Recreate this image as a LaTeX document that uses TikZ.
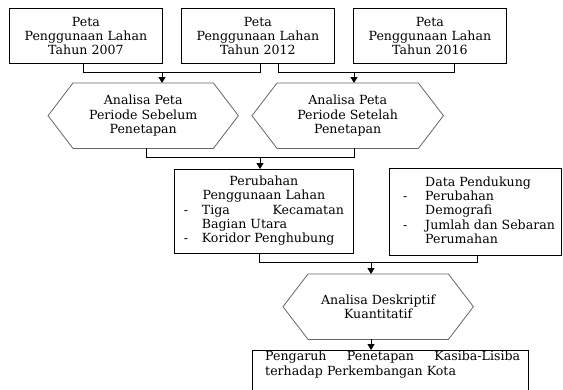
\documentclass[tikz,border=0pt]{standalone}
\usepackage{fontspec}
\setmainfont{DejaVu Serif}
\usetikzlibrary{arrows.meta}
\begin{document}
\begin{tikzpicture}[x=1pt,y=-1pt,
  txt/.style={font=\fontsize{12.6}{14.3}\selectfont,align=center},
  box/.style={draw=black,line width=0.8pt,inner sep=0pt,anchor=north west,txt},
  hexnode/.style={inner sep=0pt,anchor=north west,txt},
  hexline/.style={draw=black!60,line width=0.8pt},
  conn/.style={draw=black,line width=0.8pt},
  arr/.style={conn,-{Triangle[length=6pt,width=7pt]}}]
\useasboundingbox (0,0) rectangle (563,389);
\clip (0,0) rectangle (563,389);
% top boxes
\node[box,minimum width=153pt,minimum height=55pt] (b1) at (9,8) {Peta\\Penggunaan Lahan\\Tahun 2007};
\node[box,minimum width=153pt,minimum height=55pt] (b2) at (181,8) {Peta\\Penggunaan Lahan\\Tahun 2012};
\node[box,minimum width=153pt,minimum height=55pt] (b3) at (353,8) {Peta\\Penggunaan Lahan\\Tahun 2016};
% hexagons
\node[hexnode,minimum width=190pt,minimum height=65pt] (h1) at (48,83) {Analisa Peta\\Periode Sebelum\\Penetapan};
\node[hexnode,minimum width=191pt,minimum height=65pt] (h2) at (252,83) {Analisa Peta\\Periode Setelah\\Penetapan};
\node[hexnode,minimum width=190pt,minimum height=65pt] (h3) at (283,274) {Analisa Deskriptif\\Kuantitatif};
\foreach \h in {h1,h2,h3}{
  \draw[hexline] (\h.west) -- ([xshift=25pt]\h.north west) -- ([xshift=-25pt]\h.north east) -- (\h.east)
    -- ([xshift=-25pt]\h.south east) -- ([xshift=25pt]\h.south west) -- cycle;
}
% middle boxes
\node[box,minimum width=179pt,minimum height=84pt] (p) at (174,169) {%
  \begin{tabular}{@{}p{18pt}@{}p{142pt}@{}}
  \multicolumn{2}{c}{Perubahan}\\
  \multicolumn{2}{c}{Penggunaan Lahan}\\
  - & \makebox[\linewidth][s]{Tiga Kecamatan}\\
   & Bagian Utara\\
  - & Koridor Penghubung
  \end{tabular}};
\node[box,minimum width=172pt,minimum height=87pt] (d) at (389,168) {};
\node[txt,inner sep=0pt,anchor=west] (dt) at ([xshift=14pt]d.west) {%
  \begin{tabular}{@{}p{22pt}@{}l@{}}
   & Data Pendukung\\
  - & Perubahan\\
   & Demografi\\
  - & Jumlah dan Sebaran\\
   & Perumahan
  \end{tabular}};
% final box
\node[box,minimum width=276pt,minimum height=45pt] (f) at (252,350) {};
\node[txt,inner sep=0pt,anchor=north west,align=left] (ft) at ([shift={(13,1)}]f.north west)
  {\makebox[255pt][s]{Pengaruh Penetapan Kasiba-Lisiba}\\terhadap Perkembangan Kota};
% connectors
\coordinate (j1a) at (83,72); \coordinate (j1b) at (260,72); \coordinate (j1) at (162,72);
\draw[conn] (b1.south -| j1a) -- (j1a) -- (j1b) -- (b2.south -| j1b);
\draw[arr] (j1) -- (h1.north -| j1);
\coordinate (j2a) at (278,72); \coordinate (j2b) at (454,72); \coordinate (j2) at (354,72);
\draw[conn] (b2.south -| j2a) -- (j2a) -- (j2b) -- (b3.south -| j2b);
\draw[arr] (j2) -- (h2.north -| j2);
\coordinate (j3a) at (146,157); \coordinate (j3b) at (354,157); \coordinate (j3) at (260,157);
\draw[conn] (h1.south -| j3a) -- (j3a) -- (j3b) -- (h2.south -| j3b);
\draw[arr] (j3) -- (p.north -| j3);
\coordinate (j4a) at (259,262); \coordinate (j4b) at (477,262); \coordinate (j4) at (371,262);
\draw[conn] (p.south -| j4a) -- (j4a) -- (j4b) -- (d.south -| j4b);
\draw[arr] (j4) -- (h3.north -| j4);
\coordinate (j5) at (371,339);
\draw[arr] (h3.south -| j5) -- (f.north -| j5);
\end{tikzpicture}
\end{document}
